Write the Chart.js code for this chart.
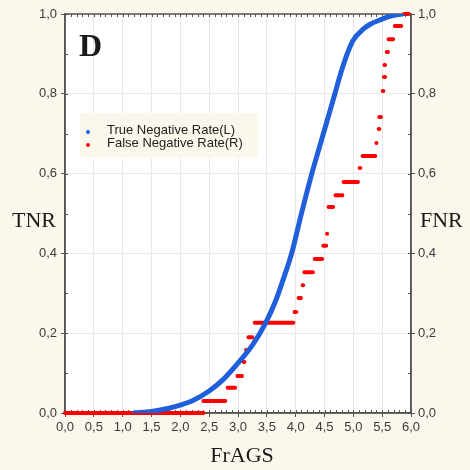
<!DOCTYPE html>
<html>
<head>
<meta charset="utf-8">
<script src="https://cdn.jsdelivr.net/npm/chart.js@4.4.1/dist/chart.umd.min.js"></script>
<style>
  html, body { margin: 0; padding: 0; background: #fcf7ec; }
  #wrap { width: 470px; height: 470px; position: relative; }
</style>
</head>
<body>
<div id="wrap"><canvas id="chart" width="470" height="470"></canvas></div>
<script>
// TNR curve (left axis)
const tnrX = [1.2, 1.5, 1.8, 2.0, 2.2, 2.5, 2.75, 3.0, 3.25, 3.48, 3.65, 3.78, 3.93, 4.1, 4.28, 4.42, 4.55, 4.68, 4.8, 4.92, 5.0, 5.17, 5.3, 5.46, 5.6, 5.75, 5.85];
const tnrY = [0, 0.004, 0.012, 0.02, 0.03, 0.055, 0.085, 0.125, 0.17, 0.226, 0.28, 0.333, 0.4, 0.5, 0.6, 0.67, 0.735, 0.8, 0.86, 0.91, 0.935, 0.962, 0.975, 0.985, 0.993, 0.998, 1.0];

// FNR steps (right axis): each step runs from fnrStart to fnrEnd at fnrLevel
const fnrStart = [0.0, 2.40, 2.82, 2.99, 3.10, 3.14, 3.18, 3.29, 3.98, 4.05, 4.12, 4.15, 4.33, 4.48, 4.545, 4.57, 4.69, 4.83, 5.11, 5.16, 5.40, 5.44, 5.45, 5.51, 5.53, 5.54, 5.58, 5.61, 5.72, 5.88];
const fnrEnd   = [2.40, 2.78, 2.95, 3.07, 3.11, 3.15, 3.25, 3.96, 4.01, 4.09, 4.13, 4.30, 4.46, 4.53, 4.555, 4.65, 4.81, 5.08, 5.12, 5.38, 5.41, 5.45, 5.48, 5.52, 5.55, 5.55, 5.60, 5.69, 5.83, 5.96];
const fnrLevel = [0.0, 0.030, 0.063, 0.093, 0.128, 0.158, 0.190, 0.226, 0.253, 0.288, 0.320, 0.353, 0.386, 0.419, 0.449, 0.516, 0.546, 0.579, 0.614, 0.644, 0.677, 0.712, 0.742, 0.807, 0.842, 0.872, 0.905, 0.937, 0.970, 1.0];

const xTicks = [0, 0.5, 1, 1.5, 2, 2.5, 3, 3.5, 4, 4.5, 5, 5.5, 6];
const yTicks = [0, 0.2, 0.4, 0.6, 0.8, 1.0];

const bg = "#fcf7ec";
const blue = "#1f5fdc";
const red = "#ff0000";

const tnrData = tnrX.map((x, i) => ({ x: x, y: tnrY[i] }));
const fnrData = [];
fnrLevel.forEach((lv, i) => {
  fnrData.push({ x: fnrStart[i], y: lv });
  fnrData.push({ x: fnrEnd[i], y: lv });
  fnrData.push({ x: fnrEnd[i], y: null });
});

const fmt = v => Number(v).toFixed(1).replace(".", ",");

// white plot area, frame, minor ticks, legend and titles
const decor = {
  id: "decor",
  beforeDraw(chart) {
    const { ctx, chartArea: a } = chart;
    ctx.save();
    ctx.fillStyle = "#ffffff";
    ctx.fillRect(a.left, a.top, a.right - a.left, a.bottom - a.top);
    ctx.restore();
  },
  beforeDatasetsDraw(chart) {
    const { ctx, chartArea: a, scales } = chart;
    ctx.save();
    ctx.strokeStyle = "#555";
    ctx.lineWidth = 1;
    // minor ticks inward
    for (let v = 0; v <= 6.001; v += 0.1) {
      const px = Math.round(scales.x.getPixelForValue(v)) + 0.5;
      ctx.beginPath();
      ctx.moveTo(px, a.bottom); ctx.lineTo(px, a.bottom - 3);
      ctx.moveTo(px, a.top); ctx.lineTo(px, a.top + 3);
      ctx.stroke();
    }
    for (let v = 0; v <= 1.001; v += 0.1) {
      const py = Math.round(scales.y.getPixelForValue(v)) + 0.5;
      ctx.beginPath();
      ctx.moveTo(a.left, py); ctx.lineTo(a.left + 3, py);
      ctx.moveTo(a.right, py); ctx.lineTo(a.right - 3, py);
      ctx.stroke();
    }
    // frame
    ctx.lineWidth = 1.5;
    ctx.strokeRect(a.left, a.top, a.right - a.left, a.bottom - a.top);
    ctx.restore();
  },
  afterDraw(chart) {
    const { ctx } = chart;
    ctx.save();
    // legend box
    ctx.fillStyle = bg;
    ctx.fillRect(80, 113, 178, 45);
    ctx.font = "13px 'Liberation Sans', Arial, sans-serif";
    ctx.textBaseline = "middle";
    const ds = chart.data.datasets;
    [130, 143].forEach((y, i) => {
      ctx.beginPath();
      ctx.fillStyle = ds[i].borderColor;
      ctx.arc(88, y + 2, 2, 0, Math.PI * 2);
      ctx.fill();
      ctx.fillStyle = "#222";
      ctx.fillText(ds[i].label, 107, y);
    });

    // titles
    ctx.fillStyle = "#1a1a1a";
    ctx.textBaseline = "alphabetic";
    ctx.font = "bold 32px 'Liberation Serif', serif";
    ctx.textAlign = "left";
    ctx.fillText("D", 79, 56);
    ctx.font = "22px 'Liberation Serif', serif";
    ctx.fillText("TNR", 12, 227);
    ctx.fillText("FNR", 420, 227);
    ctx.textAlign = "center";
    ctx.fillText("FrAGS", 242, 462);
    ctx.restore();
  }
};

const tickFont = { family: "'Liberation Sans', Arial, sans-serif", size: 13 };

new Chart(document.getElementById("chart"), {
  type: "line",
  data: {
    datasets: [
      {
        label: "True Negative Rate(L)",
        data: tnrData,
        yAxisID: "y",
        borderColor: blue,
        backgroundColor: blue,
        borderWidth: 5,
        pointRadius: 0,
        cubicInterpolationMode: "monotone",
        borderCapStyle: "round"
      },
      {
        label: "False Negative Rate(R)",
        data: fnrData,
        yAxisID: "y1",
        borderColor: red,
        backgroundColor: red,
        borderWidth: 4,
        pointRadius: 0,
        spanGaps: false,
        borderCapStyle: "round",
        clip: 3
      }
    ]
  },
  options: {
    responsive: false,
    animation: false,
    devicePixelRatio: 1,
    layout: { padding: { top: 14, left: 0, right: 0, bottom: 0 } },
    plugins: { legend: { display: false }, tooltip: { enabled: false } },
    scales: {
      x: {
        type: "linear",
        min: 0, max: 6,
        afterFit(s) { s.height = 57; },
        afterBuildTicks(s) { s.ticks = xTicks.map(v => ({ value: v })); },
        ticks: { callback: fmt, color: "#3a3a3a", font: tickFont, padding: 3, maxRotation: 0 },
        grid: { color: "#e8e8e8", tickColor: "#555", tickLength: 4 },
        border: { color: "#555", width: 1.5 }
      },
      y: {
        position: "left",
        min: 0, max: 1,
        afterFit(s) { s.width = 65; },
        afterBuildTicks(s) { s.ticks = yTicks.map(v => ({ value: v })); },
        ticks: { callback: fmt, color: "#3a3a3a", font: tickFont, padding: 4 },
        grid: { color: "#e8e8e8", tickColor: "#555", tickLength: 4 },
        border: { color: "#555", width: 1.5 }
      },
      y1: {
        position: "right",
        min: 0, max: 1,
        afterFit(s) { s.width = 59; },
        afterBuildTicks(s) { s.ticks = yTicks.map(v => ({ value: v })); },
        ticks: { callback: fmt, color: "#3a3a3a", font: tickFont, padding: 3 },
        grid: { drawOnChartArea: false, tickColor: "#555", tickLength: 4 },
        border: { color: "#555", width: 1.5 }
      }
    }
  },
  plugins: [decor]
});
</script>
</body>
</html>
